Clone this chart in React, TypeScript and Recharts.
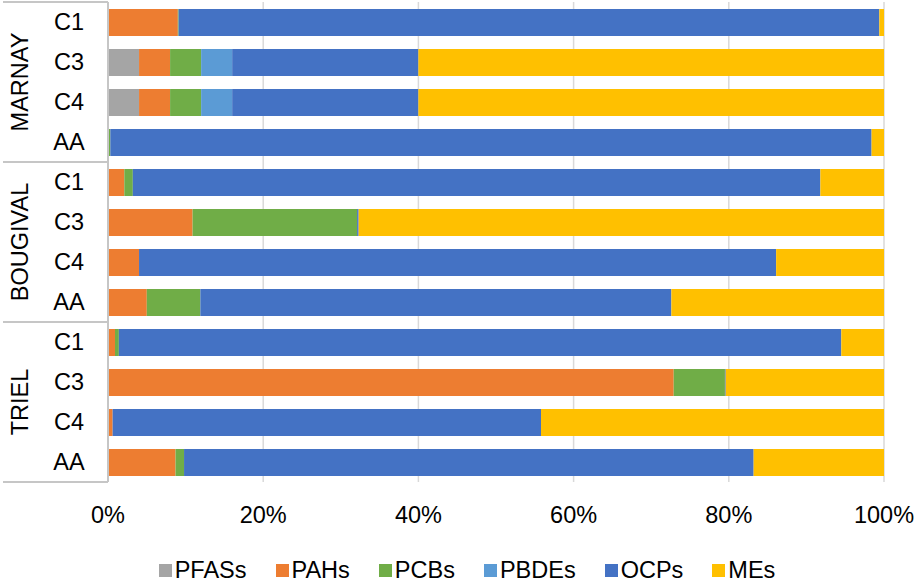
import { BarChart, Bar, XAxis, YAxis, CartesianGrid, Legend } from 'recharts';

const sites = ['MARNAY', 'BOUGIVAL', 'TRIEL'];
const samples = ['C1', 'C3', 'C4', 'AA'];

// percentages per row, in order MARNAY C1..AA, BOUGIVAL C1..AA, TRIEL C1..AA
const pfas = [0, 4, 4, 0, 0, 0, 0, 0, 0, 0, 0, 0];
const pahs = [9.0, 4, 4, 0.1, 2.1, 10.9, 4.0, 5.0, 0.9, 72.9, 0.6, 8.7];
const pcbs = [0.1, 4, 4, 0.2, 1.1, 21.2, 0, 6.9, 0.5, 6.6, 0, 1.1];
const pbdes = [0, 4, 4, 0, 0, 0, 0, 0, 0, 0, 0, 0];
const ocps = [90.3, 24, 24, 98.1, 88.6, 0.2, 82.1, 60.7, 93.1, 0.1, 55.2, 73.4];
const mes = [0.6, 60, 60, 1.6, 8.2, 67.7, 13.9, 27.4, 5.5, 20.4, 44.2, 16.8];

const xTicks = [0, 0.2, 0.4, 0.6, 0.8, 1];

const series = [
  { key: 'PFASs', values: pfas, color: '#A5A5A5' },
  { key: 'PAHs', values: pahs, color: '#ED7D31' },
  { key: 'PCBs', values: pcbs, color: '#70AD47' },
  { key: 'PBDEs', values: pbdes, color: '#5B9BD5' },
  { key: 'OCPs', values: ocps, color: '#4472C4' },
  { key: 'MEs', values: mes, color: '#FFC000' },
];

const data = sites.flatMap((site, si) =>
  samples.map((s, ci) => {
    const i = si * samples.length + ci;
    const row: Record<string, string | number> = { id: `${site}-${s}`, site, sample: s };
    series.forEach((ser) => {
      row[ser.key] = ser.values[i];
    });
    return row;
  })
);

const FONT = '"Liberation Sans", Arial, sans-serif';
const FS = 23.5;
const HALF_BAND = 20;

const CategoryTick = (props: any) => {
  const { y, payload, index } = props;
  const [site, sample] = String(payload.value).split('-');
  const inGroup = index % samples.length;
  return (
    <g>
      <text x={69} y={y} dy={8} textAnchor="middle" fontSize={FS} fill="#000" fontFamily={FONT}>
        {sample}
      </text>
      {inGroup === 0 && (
        <line x1={3} x2={108} y1={y - HALF_BAND} y2={y - HALF_BAND} stroke="#C6C6C6" strokeWidth={2} />
      )}
      {index === data.length - 1 && (
        <line x1={3} x2={108} y1={y + HALF_BAND} y2={y + HALF_BAND} stroke="#C6C6C6" strokeWidth={2} />
      )}
      {inGroup === 1 && (
        <text
          x={20}
          y={y + HALF_BAND}
          dy={8}
          textAnchor="middle"
          fontSize={FS}
          fill="#000"
          fontFamily={FONT}
          transform={`rotate(-90 20 ${y + HALF_BAND})`}
        >
          {site}
        </text>
      )}
    </g>
  );
};

const LegendContent = () => (
  <div
    style={{
      display: 'flex',
      justifyContent: 'center',
      gap: 29,
      fontFamily: FONT,
      fontSize: FS,
      lineHeight: '30px',
      paddingLeft: 19,
    }}
  >
    {series.map((s) => (
      <div key={s.key} style={{ display: 'flex', alignItems: 'center' }}>
        <span style={{ display: 'inline-block', width: 13, height: 13, background: s.color, marginRight: 3 }} />
        <span>{s.key}</span>
      </div>
    ))}
  </div>
);

export default function App() {
  return (
    <div style={{ position: 'absolute', left: 0, top: 0, fontFamily: FONT }}>
      <BarChart
        width={915}
        height={585}
        data={data}
        layout="vertical"
        stackOffset="expand"
        margin={{ top: 2, right: 31, left: 40, bottom: 43 }}
      >
        <CartesianGrid horizontal={false} stroke="#D9D9D9" strokeWidth={1.5} />
        <XAxis
          type="number"
          domain={[0, 1]}
          ticks={xTicks}
          tickFormatter={(v: number) => `${Math.round(v * 100)}%`}
          axisLine={false}
          tickLine={false}
          tickMargin={18}
          height={30}
          tick={{ fontSize: FS, fill: '#000', fontFamily: FONT }}
        />
        <YAxis
          type="category"
          dataKey="id"
          width={68}
          axisLine={{ stroke: '#C6C6C6', strokeWidth: 2 }}
          tickLine={false}
          interval={0}
          tick={<CategoryTick />}
        />
        <Legend verticalAlign="bottom" content={<LegendContent />} wrapperStyle={{ bottom: 0, left: 0, width: 915 }} />
        {series.map((s) => (
          <Bar key={s.key} dataKey={s.key} stackId="a" fill={s.color} barSize={27} isAnimationActive={false} />
        ))}
      </BarChart>
    </div>
  );
}
